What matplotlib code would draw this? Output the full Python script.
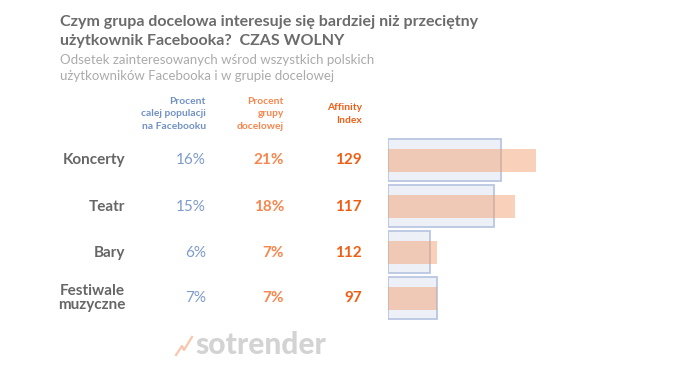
import matplotlib
matplotlib.use('Agg')
import matplotlib.pyplot as plt

plt.rcParams['font.family'] = ['Lato', 'DejaVu Sans']

categories = ['Koncerty', 'Teatr', 'Bary', 'Festiwale\nmuzyczne']
pct_population = [16, 15, 6, 7]
pct_target = [21, 18, 7, 7]
affinity = [129, 117, 112, 97]

W, H = 690, 370
fig = plt.figure(figsize=(W / 100, H / 100), dpi=100)

def fx(px):
    return px / W

def fy(py):
    return 1 - py / H

# title + subtitle
fig.text(fx(60), fy(22), 'Czym grupa docelowa interesuje się bardziej niż przeciętny',
         fontsize=11.5, fontweight='bold', color='#6b6b6b', va='center')
fig.text(fx(60), fy(41), 'użytkownik Facebooka?  CZAS WOLNY',
         fontsize=11.5, fontweight='bold', color='#6b6b6b', va='center')
fig.text(fx(60), fy(60), 'Odsetek zainteresowanych wśrod wszystkich polskich',
         fontsize=9.5, color='#ababab', va='center')
fig.text(fx(60), fy(76), 'użytkowników Facebooka i w grupie docelowej',
         fontsize=9.5, color='#ababab', va='center')

# column headers
blue_txt = '#7191c6'
orange_txt = '#f5874f'
red_txt = '#ee5f16'
fig.text(fx(206), fy(114), 'Procent\ncalej populacji\nna Facebooku', ha='right', va='center',
         fontsize=7.4, fontweight='bold', color=blue_txt, linespacing=1.5)
fig.text(fx(284), fy(114), 'Procent\ngrupy\ndocelowej', ha='right', va='center',
         fontsize=7.4, fontweight='bold', color=orange_txt, linespacing=1.5)
fig.text(fx(362), fy(114), 'Affinity\nIndex', ha='right', va='center',
         fontsize=7.4, fontweight='bold', color=red_txt, linespacing=1.5)

# table rows
row_y = [160, 207, 253, 298]
for i, cat in enumerate(categories):
    y = fy(row_y[i])
    if '\n' in cat:
        fig.text(fx(92), y, cat, ha='center', va='center', fontsize=11,
                 fontweight='bold', color='#666666', linespacing=1.0)
    else:
        fig.text(fx(125), y, cat, ha='right', va='center', fontsize=11,
                 fontweight='bold', color='#666666')
    fig.text(fx(206), y, f'{pct_population[i]}%', ha='right', va='center',
             fontsize=11, color='#7e9acb')
    fig.text(fx(284), y, f'{pct_target[i]}%', ha='right', va='center',
             fontsize=11, fontweight='bold', color=orange_txt)
    fig.text(fx(362), y, f'{affinity[i]}', ha='right', va='center',
             fontsize=11, fontweight='bold', color=red_txt)

# bars
ax = fig.add_axes([fx(388), fy(321), fx(212), 184 / H])
pos = list(range(len(categories)))
ax.barh(pos, pct_population, height=0.91, color='#edf0f6', edgecolor='#b9c7e1',
        linewidth=1.3, zorder=1)
ax.barh(pos, pct_target, height=0.5, color='#f39a66', alpha=0.45,
        linewidth=0, zorder=2)
ax.set_xlim(0, 212 / 7.05)
ax.set_ylim(3.5, -0.5)
ax.axis('off')

# logo
fig.text(fx(195), fy(345), 'sotrender', ha='left', va='center', fontsize=21.5,
         fontweight='black', color='#d3d3d3')
fig.add_artist(plt.Line2D([fx(176), fx(182), fx(184), fx(192)],
                          [fy(355), fy(346), fy(350), fy(337)],
                          color='#f7c6ad', linewidth=1.6))

fig.savefig('out.png', dpi=100, facecolor='white')
